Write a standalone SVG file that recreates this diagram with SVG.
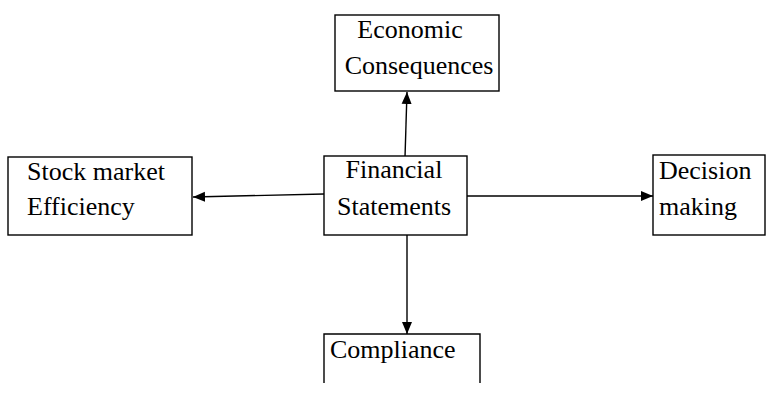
<svg xmlns="http://www.w3.org/2000/svg" width="766" height="393" viewBox="0 0 766 393">
<style>
.box{fill:#fff;stroke:#000;stroke-width:1.4}
.ln{stroke:#000;stroke-width:1.4;fill:none;marker-end:url(#ah)}
</style>
<defs>
<marker id="ah" markerWidth="12" markerHeight="12" refX="12" refY="6" orient="auto" markerUnits="userSpaceOnUse">
<path d="M0,1 L12,6 L0,11 Z" fill="#000"/>
</marker>
</defs>
<rect width="766" height="393" fill="#fff"/>
<g id="connectors">
<line class="ln" x1="405" y1="157" x2="407" y2="92"/>
<line class="ln" x1="324" y1="194" x2="193" y2="197"/>
<line class="ln" x1="467" y1="196" x2="653" y2="196"/>
<line class="ln" x1="407" y1="235" x2="407" y2="334"/>
</g>
<g style="font-family:'Liberation Serif';font-size:26px" fill="#000">
<g id="economic">
<rect class="box" x="335" y="15" width="164" height="76"/>
<text x="410" y="38" text-anchor="middle">Economic</text>
<text x="419" y="74" text-anchor="middle">Consequences</text>
</g>
<g id="stock">
<rect class="box" x="8" y="157" width="184" height="78"/>
<text x="27" y="180">Stock market</text>
<text x="27" y="215">Efficiency</text>
</g>
<g id="financial">
<rect class="box" x="324" y="156" width="143" height="79"/>
<text x="394" y="178" text-anchor="middle">Financial</text>
<text x="394" y="215" text-anchor="middle">Statements</text>
</g>
<g id="decision">
<rect class="box" x="653" y="155" width="112" height="80"/>
<text x="659" y="179">Decision</text>
<text x="659" y="215">making</text>
</g>
<g id="compliance">
<path class="box" d="M324,383 V334 H480 V383" style="fill:none"/>
<text x="330" y="358">Compliance</text>
</g>
</g>
</svg>
